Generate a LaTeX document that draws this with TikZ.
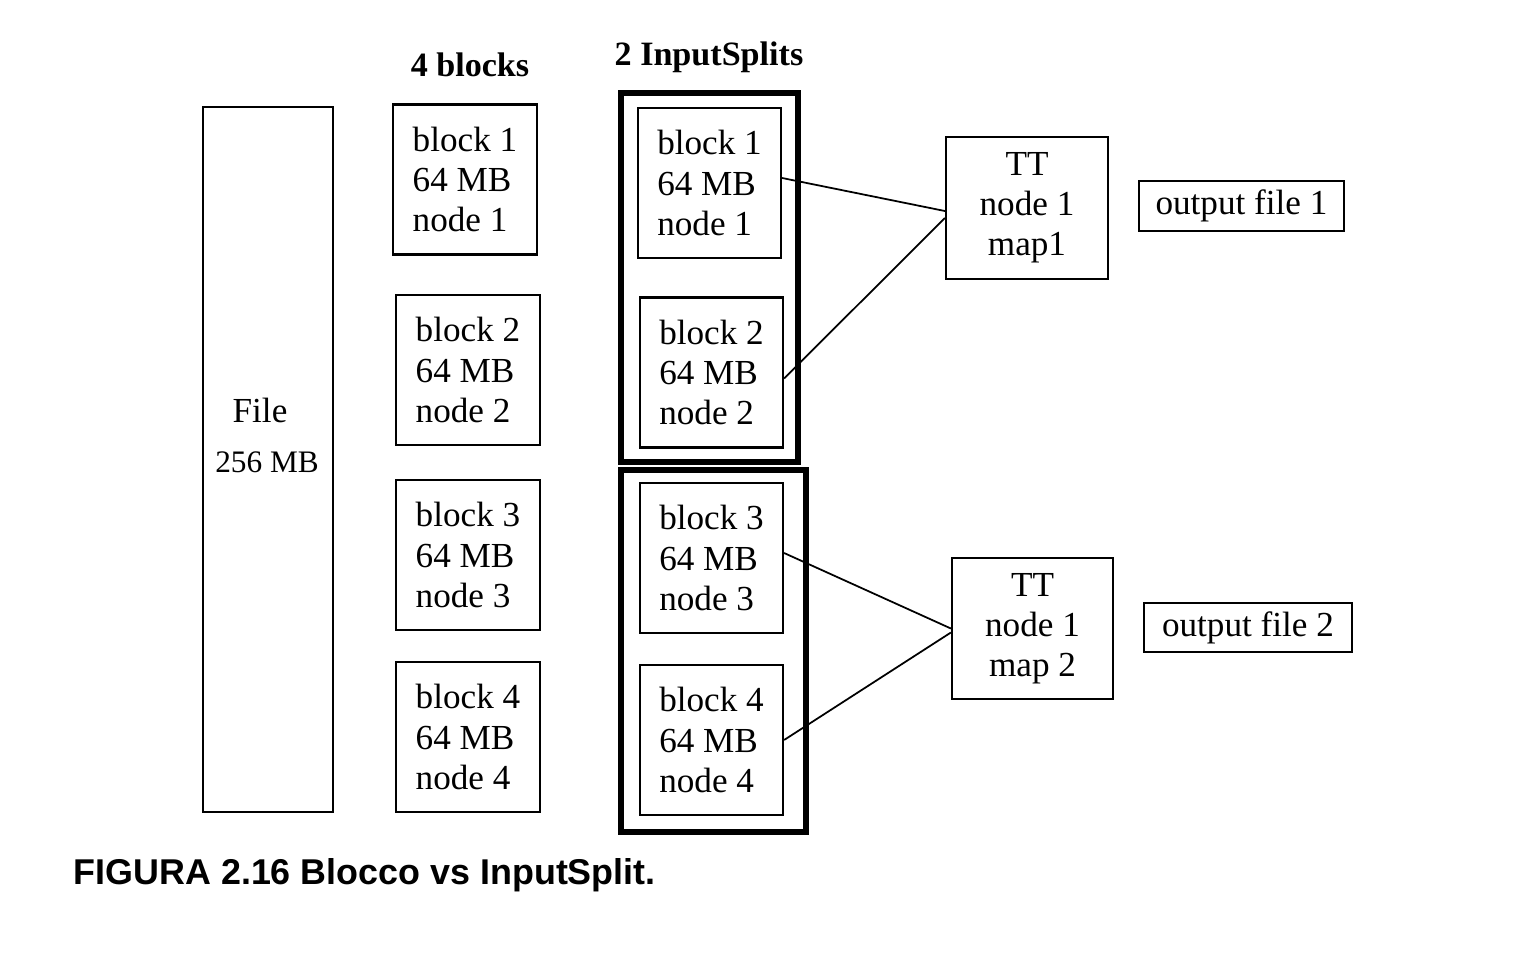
\documentclass[tikz,border=0pt]{standalone}
\usepackage{fontspec}
\setmainfont{Liberation Serif}
\newfontfamily\capfont{Liberation Sans}
\begin{document}
\begin{tikzpicture}[x=0.01cm,y=-0.01cm]
  \tikzstyle{every node}=[font=\fontsize{10}{11.4}\selectfont]
  \tikzstyle{blockbox}=[draw, line width=0.6pt, inner sep=0pt, align=left, minimum width=1.44cm, minimum height=1.5cm]
  \tikzstyle{splitbox}=[draw, line width=1.6pt, inner sep=0pt]
  \tikzstyle{ttbox}=[draw, line width=0.6pt, inner sep=0pt, align=center, minimum width=1.62cm, minimum height=1.42cm]
  \tikzstyle{outbox}=[draw, line width=0.6pt, inner sep=0pt, minimum height=0.5cm]
  \tikzstyle{titletext}=[font=\fontsize{9.7}{11}\selectfont\bfseries]
  \useasboundingbox (0,0) rectangle (1520,960);

  %the whole file
  \node[draw, line width=0.6pt, minimum width=1.30cm, minimum height=7.05cm] (file) at (268,459.5) {};
  \node (filename) at (260,410) {File};
  \node[font=\fontsize{8.9}{10}\selectfont] (filesize) at (267,462) {256 MB};

  %the 4 blocks
  \node[titletext] (blockstitle) at (470,65) {4 blocks};
  \node[blockbox] (b1) at (465,179.5) {block 1\\64 MB\\node 1};
  \node[blockbox] (b2) at (468,370) {block 2\\64 MB\\node 2};
  \node[blockbox] (b3) at (468,555) {block 3\\64 MB\\node 3};
  \node[blockbox] (b4) at (468,737) {block 4\\64 MB\\node 4};

  %the 2 input splits
  \node[titletext] (splitstitle) at (709,57) {2 InputSplits};
  \node[splitbox, minimum width=1.77cm, minimum height=3.69cm] (sp1) at (709.5,277.5) {};
  \node[splitbox, minimum width=1.85cm, minimum height=3.62cm] (sp2) at (713.5,651) {};
  \node[blockbox, minimum width=1.43cm] (s1) at (709.5,183) {block 1\\64 MB\\node 1};
  \node[blockbox, minimum width=1.43cm] (s2) at (711.5,372.5) {block 2\\64 MB\\node 2};
  \node[blockbox, minimum width=1.43cm] (s3) at (711.5,558) {block 3\\64 MB\\node 3};
  \node[blockbox, minimum width=1.43cm] (s4) at (711.5,740) {block 4\\64 MB\\node 4};

  %task trackers and outputs
  \node[ttbox] (tt1) at (1027,208) {TT\\node 1\\map1};
  \node[ttbox, minimum width=1.61cm, minimum height=1.41cm] (tt2) at (1032.5,628.5) {TT\\node 1\\map 2};
  \node[outbox, minimum width=2.05cm] (out1) at (1241.5,206) {output file 1};
  \node[outbox, minimum width=2.08cm, minimum height=0.49cm] (out2) at (1248,627.5) {output file 2};

  \draw[line width=0.5pt] ([yshift=0.05cm]s1.east) -- ([yshift=-0.03cm]tt1.west);
  \draw[line width=0.5pt] ([yshift=-0.06cm]s2.east) -- ([yshift=-0.10cm]tt1.west);
  \draw[line width=0.5pt] ([yshift=0.05cm]s3.east) -- (tt2.west);
  \draw[line width=0.5pt] (s4.east) -- ([yshift=-0.04cm]tt2.west);

  %caption
  \node[anchor=west, inner sep=0pt, font=\capfont\fontsize{10.2}{12}\selectfont\bfseries] (caption) at (73,875) {FIGURA 2.16 Blocco vs InputSplit.};
\end{tikzpicture}
\end{document}
